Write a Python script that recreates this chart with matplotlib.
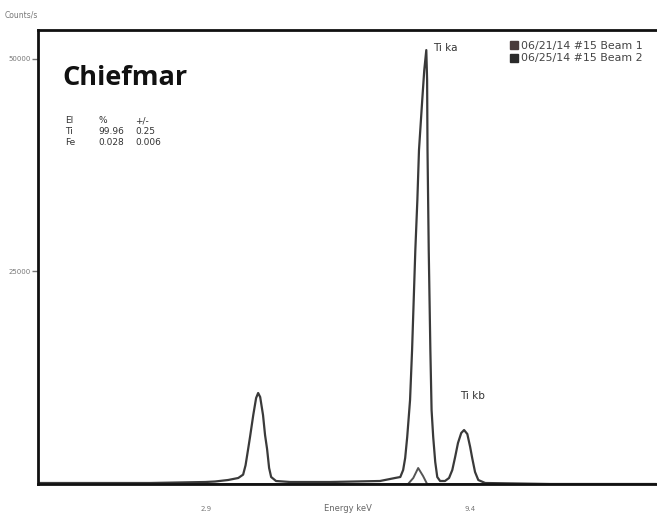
import matplotlib
matplotlib.use("Agg")
import matplotlib.pyplot as plt
from matplotlib.lines import Line2D

# spectrum values (energy in keV, counts/s)
beam1_energy = [-1.24, 1.52, 2.88, 3.12, 3.44, 3.69,
                3.81, 3.87, 3.93, 3.98, 4.06, 4.13, 4.18, 4.23, 4.30, 4.35, 4.40, 4.45, 4.50, 4.62,
                4.97, 5.95, 7.18, 7.55,
                7.68, 7.75, 7.80, 7.85, 7.92, 7.97, 8.01, 8.05, 8.10, 8.14, 8.22, 8.27, 8.32,
                8.34, 8.35, 8.38, 8.42, 8.45, 8.49, 8.54, 8.59, 8.66,
                8.78, 8.88, 8.96, 9.03, 9.10, 9.18, 9.25, 9.33, 9.40, 9.45, 9.52, 9.60, 9.77,
                11.37, 13.96]
beam1_counts = [118, 118, 235, 294, 470, 706,
                1100, 2200, 3998, 5527, 8114, 10114, 10702, 10231, 8114, 5762, 4116, 1882, 823, 353,
                235, 235, 353, 706,
                823, 1646, 3058, 5527, 9878, 15758, 21638, 27518, 33398, 39278, 45158, 48686, 51038,
                47510, 39278, 27518, 15758, 8702, 5527, 2587, 823, 353,
                353, 706, 1646, 3175, 4822, 5998, 6350, 5880, 4351, 3058, 1411, 470, 118,
                0, 0]

beam2_energy = [-1.24, 7.87, 8.00, 8.12, 8.24, 8.34, 13.96]
beam2_counts = [0, 0, 706, 1882, 941, 0, 0]

legend_labels = ["06/21/14 #15 Beam 1", "06/25/14 #15 Beam 2"]
legend_colors = ["#4a3c3c", "#2a2a2a"]

table_rows = [["El", "%", "+/-"],
              ["Ti", "99.96", "0.25"],
              ["Fe", "0.028", "0.006"]]

fig = plt.figure(figsize=(6.57, 5.17), dpi=100)
ax = fig.add_axes([38/657, 33/517, 619/657, 454/517])

ax.plot(beam1_energy, beam1_counts, color="#3a3a3a", lw=1.6)
ax.plot(beam2_energy, beam2_counts, color="#555555", lw=1.4)

ax.set_xlim(-1.24, 14.0)
ax.set_ylim(0, 53400)

for s in ["left", "top", "bottom"]:
    ax.spines[s].set_linewidth(2)
    ax.spines[s].set_color("#111111")
ax.spines["right"].set_visible(False)

ax.set_yticks([25000, 50000])
ax.set_yticklabels(["25000", "50000"])
ax.set_xticks([2.9, 9.4])
ax.set_xticklabels(["2.9", "9.4"])
ax.tick_params(axis="y", length=4, width=1, colors="#777777", labelsize=5, pad=1)
ax.tick_params(axis="x", length=0, labelsize=5, labelcolor="#777777", pad=16)

ax.set_xlabel("Energy keV", fontsize=6, color="#666666", labelpad=-6)
fig.text(5/657, 1 - 15/517, "Counts/s", fontsize=5.5, color="#777777", va="center")

ax.text(8.48, 51300, "Ti ka", fontsize=7.5, color="#333333", va="center")
ax.text(9.15, 10350, "Ti kb", fontsize=7.5, color="#333333", va="center")

ax.text(0.04, 0.894, "Chiefmar", transform=ax.transAxes, fontsize=19.5,
        fontweight="bold", family="Open Sans", color="#111111", va="center")

col_x = [0.044, 0.097, 0.157]
row_y = [0.8, 0.776, 0.752]
for r, row in enumerate(table_rows):
    for c, txt in enumerate(row):
        ax.text(col_x[c], row_y[r], txt, transform=ax.transAxes, fontsize=6.5,
                color="#333333", va="center")

handles = [Line2D([], [], ls="", marker="s", markersize=6, color=col) for col in legend_colors]
ax.legend(handles, legend_labels, loc="upper left", bbox_to_anchor=(0.753, 0.985),
          frameon=False, fontsize=7.9, handletextpad=0.1, labelspacing=0.2,
          handlelength=1, borderaxespad=0, labelcolor="#444444")

fig.savefig("out.png", dpi=100)
